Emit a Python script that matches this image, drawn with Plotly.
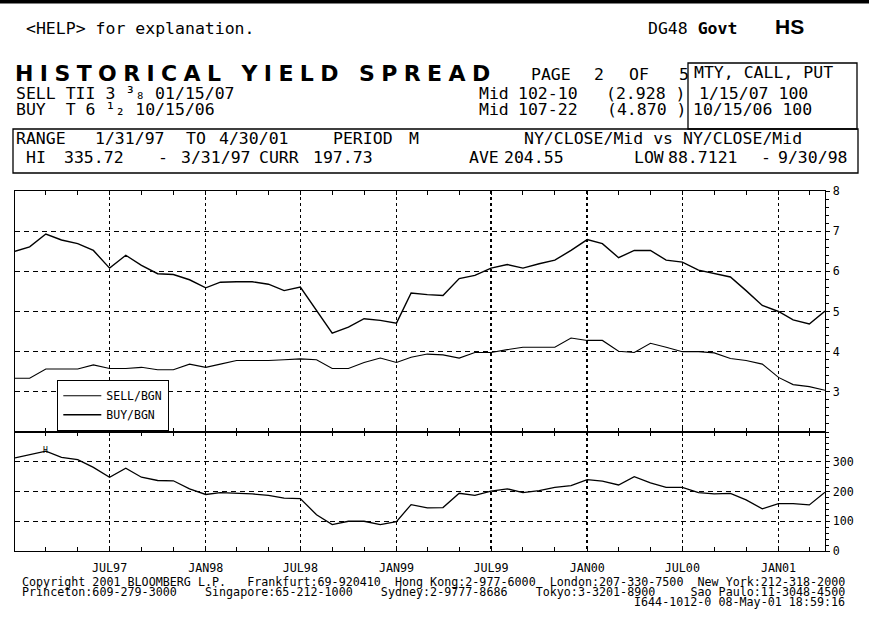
import plotly.graph_objects as go
import pandas as pd

# ---------------- data (monthly, month-end) ----------------
dates = pd.date_range("1997-01-31", periods=52, freq="ME").strftime("%Y-%m-%d").tolist()

buy_yield = [6.50, 6.61, 6.93, 6.78, 6.69, 6.52, 6.08, 6.40, 6.15, 5.94,
             5.92, 5.79, 5.59, 5.73, 5.74, 5.74, 5.68, 5.52, 5.61, 5.03,
             4.46, 4.61, 4.82, 4.78, 4.71, 5.46, 5.42, 5.40, 5.82, 5.90,
             6.08, 6.17, 6.08, 6.19, 6.28, 6.52, 6.79, 6.69, 6.34, 6.52,
             6.52, 6.28, 6.23, 6.03, 5.94, 5.86, 5.52, 5.15, 5.00, 4.79,
             4.69, 5.01]

sell_yield = [3.34, 3.34, 3.57, 3.57, 3.57, 3.67, 3.58, 3.58, 3.61, 3.55,
              3.55, 3.69, 3.61, 3.69, 3.78, 3.78, 3.78, 3.80, 3.82, 3.80,
              3.58, 3.58, 3.73, 3.84, 3.73, 3.86, 3.94, 3.92, 3.84, 3.98,
              3.98, 4.05, 4.11, 4.11, 4.11, 4.34, 4.28, 4.28, 4.01, 3.98,
              4.21, 4.11, 4.00, 4.00, 3.97, 3.83, 3.78, 3.69, 3.36, 3.18,
              3.13, 3.04]

spread = [313, 323, 335.7, 315, 307, 281, 248, 278, 248, 237,
          236, 209, 190, 196, 195, 192, 187, 178, 176, 122,
          88.7, 100, 100, 89, 99, 156, 145, 146, 194, 187,
          201, 209, 196, 203, 214, 220, 240, 235, 222, 250,
          229, 214, 214, 196, 192, 194, 172, 142, 159, 159,
          155, 197.7]

x_tickvals = ["1997-07-31", "1998-01-31", "1998-07-31", "1999-01-31",
              "1999-07-31", "2000-01-31", "2000-07-31", "2001-01-31"]
x_ticktext = ["JUL97", "JAN98", "JUL98", "JAN99", "JUL99", "JAN00", "JUL00", "JAN01"]
y1_ticks = [3, 4, 5, 6, 7, 8]
y2_ticks = [0, 100, 200, 300]

# ---------------- geometry helpers ----------------
W, H = 869, 619
L, R, T, B = 15, 44, 191, 68
PW, PH = W - L - R, H - T - B
SPLIT = (H - B - 432) / PH


def px(x):
    return (x - L) / PW


def py(y):
    return (H - B - y) / PH


MONO = "DejaVu Sans Mono"
HDR = 16.5
annots = []


def txt(x, y, s, size=HDR, family=MONO, anchor="left"):
    annots.append(dict(x=px(x), y=py(y), xref="paper", yref="paper", text=s,
                       showarrow=False, xanchor=anchor, yanchor="middle",
                       borderpad=0, font=dict(family=family, size=size, color="black")))


# header rows
txt(25, 28, "&lt;HELP&gt; for explanation.")
txt(647, 28, "DG48 <b>Govt</b>")
txt(774, 26, "<b>HS</b>", size=21, family="Liberation Sans")
txt(14, 73, '<b><span style="letter-spacing:6.4px">HISTORICAL YIELD SPREAD</span></b>',
    size=22, family="DejaVu Sans")
for xx, s in [(530, "PAGE"), (593, "2"), (628, "OF"), (678, "5")]:
    txt(xx, 74, s)
txt(693, 72.5, "MTY, CALL, PUT")
for xx, s in [(15, "SELL TII 3 ³₈ 01/15/07"), (478, "Mid"), (517, "102-10"),
              (605, "(2.928 )"), (698, "1/15/07 100")]:
    txt(xx, 93.5, s)
for xx, s in [(15, "BUY  T 6 ¹₂ 10/15/06"), (478, "Mid"), (517, "107-22"),
              (606, "(4.870 )"), (692, "10/15/06 100")]:
    txt(xx, 109.5, s)
for xx, s in [(15, "RANGE"), (94, "1/31/97"), (185, "TO"), (218, "4/30/01"),
              (332, "PERIOD"), (408, "M"), (523, "NY/CLOSE/Mid vs NY/CLOSE/Mid")]:
    txt(xx, 138, s)
for xx, s in [(25, "HI"), (63, "335.72"), (157, "-"), (180, "3/31/97"), (258, "CURR"),
              (312, "197.73"), (468, "AVE"), (503, "204.55"), (633, "LOW"),
              (667, "88.7121"), (760, "-"), (777, "9/30/98")]:
    txt(xx, 157.5, s)

# footer
FOOT = 11.7
txt(21, 581.5, "Copyright 2001 BLOOMBERG L.P.   Frankfurt:69-920410  Hong Kong:2-977-6000  "
               "London:207-330-7500  New York:212-318-2000", size=FOOT)
txt(21, 591.5, "Princeton:609-279-3000    Singapore:65-212-1000    Sydney:2-9777-8686    "
               "Tokyo:3-3201-8900     Sao Paulo:11-3048-4500", size=FOOT)
txt(846, 602, "I644-1012-0 08-May-01 18:59:16", size=FOOT, anchor="right")

# high marker on spread
annots.append(dict(x=dates[2], y=spread[2], xref="x2", yref="y2", text="H", showarrow=False,
                   xanchor="center", yanchor="middle", yshift=1,
                   font=dict(family=MONO, size=8, color="black")))

shapes = [
    dict(type="rect", xref="paper", yref="paper", x0=px(0), x1=px(869), y0=py(0), y1=py(3.5),
         fillcolor="black", line=dict(width=0)),
    dict(type="rect", xref="paper", yref="paper", x0=px(688), x1=px(857), y0=py(63), y1=py(129),
         line=dict(color="black", width=1.3)),
    dict(type="rect", xref="paper", yref="paper", x0=px(13), x1=px(858), y0=py(129), y1=py(173),
         line=dict(color="black", width=1.3)),
]

fig = go.Figure()
fig.add_trace(go.Scatter(x=dates, y=sell_yield, mode="lines", name="SELL/BGN",
                         line=dict(color="black", width=1.1), xaxis="x", yaxis="y"))
fig.add_trace(go.Scatter(x=dates, y=buy_yield, mode="lines", name="BUY/BGN",
                         line=dict(color="black", width=1.4), xaxis="x", yaxis="y"))
fig.add_trace(go.Scatter(x=dates, y=spread, mode="lines", name="SPREAD", showlegend=False,
                         line=dict(color="black", width=1.3), xaxis="x2", yaxis="y2"))

tickfont = dict(family=MONO, size=11.7, color="black")
xcommon = dict(range=["1997-01-31", "2001-04-30"], tickvals=x_tickvals, ticktext=x_ticktext,
               showline=True, linecolor="black", linewidth=1.3, mirror="ticks",
               ticks="inside", ticklen=4, tickcolor="black", tickwidth=1,
               showgrid=True, gridcolor="black", gridwidth=1.5, griddash="3px,3px",
               zeroline=False, automargin=False, tickfont=tickfont,
               minor=dict(tickvals=dates[2::2], ticks="inside", ticklen=4,
                          tickcolor="black", showgrid=False))
ycommon = dict(side="right", showline=True, linecolor="black", linewidth=1.3, mirror=True,
               ticks="outside", ticklen=4, tickcolor="black", tickwidth=1,
               showgrid=True, gridcolor="black", gridwidth=1.3, griddash="5px,4px",
               zeroline=False, automargin=False, tickfont=tickfont)

fig.update_layout(
    width=W, height=H,
    margin=dict(l=L, r=R, t=T, b=B, autoexpand=False),
    paper_bgcolor="white", plot_bgcolor="white",
    template="none",
    xaxis=dict(**xcommon, anchor="y", showticklabels=False, domain=[0, 1]),
    xaxis2=dict(**xcommon, anchor="y2", matches="x", showticklabels=True, domain=[0, 1],
                ticklabelstandoff=6),
    yaxis=dict(**ycommon, domain=[SPLIT, 1], range=[2, 8], tickvals=y1_ticks,
               minor=dict(dtick=0.2, tick0=2, ticks="outside", ticklen=3, tickcolor="black",
                          showgrid=False)),
    yaxis2=dict(**ycommon, domain=[0, SPLIT], range=[0, 400], tickvals=y2_ticks,
                minor=dict(dtick=20, tick0=0, ticks="outside", ticklen=3, tickcolor="black",
                           showgrid=False)),
    legend=dict(x=px(57), y=py(380), xanchor="left", yanchor="top",
                bordercolor="black", borderwidth=1.3, bgcolor="white",
                font=dict(family=MONO, size=11.5, color="black"),
                tracegroupgap=0, itemwidth=38),
    annotations=annots,
    shapes=shapes,
    showlegend=True,
    hovermode=False,
)

fig.write_html("out.html", config={"displayModeBar": False, "staticPlot": True},
               post_script="document.body.style.margin='0';")
